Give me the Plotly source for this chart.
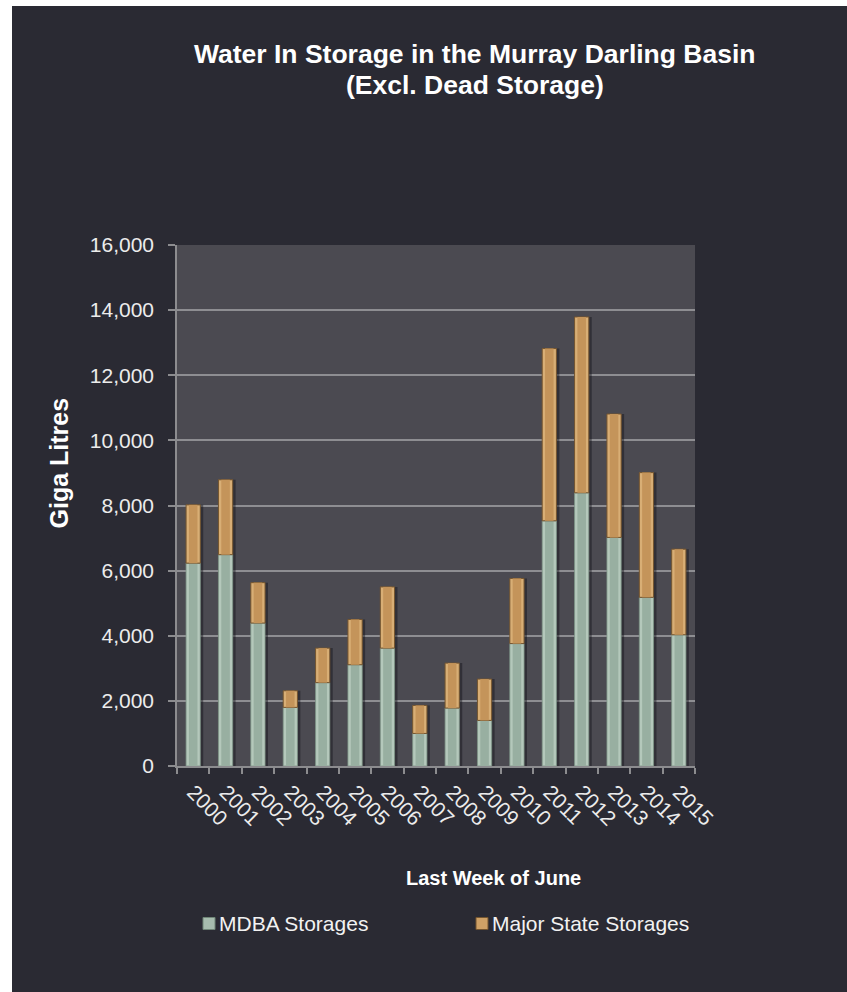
import plotly.graph_objects as go

# Water in storage, last week of June (GL)
years = [str(y) for y in range(2000, 2016)]
mdba_storages = [6230, 6490, 4390, 1800, 2560, 3110, 3620, 1000,
                 1780, 1400, 3760, 7530, 8390, 7020, 5180, 4030]
state_storages = [1790, 2300, 1240, 510, 1060, 1390, 1880, 860,
                  1380, 1270, 2000, 5290, 5400, 3790, 3830, 2630]
y_ticks = list(range(0, 16001, 2000))

totals = [a + b for a, b in zip(mdba_storages, state_storages)]

# figure geometry (pixels)
FIG_W, FIG_H = 847, 992
M_L, M_R, M_T, M_B = 177, 152, 245, 226
PW = FIG_W - M_L - M_R
PH = FIG_H - M_T - M_B


def px_x(p):
    return (p - M_L) / PW


def px_y(p):
    return (FIG_H - M_B - p) / PH


FONT = "Liberation Sans, Arial, sans-serif"
BAR_W = 0.44
INNER_W = BAR_W * 0.6

fig = go.Figure()

# soft shadow to the right of each column
fig.add_trace(go.Bar(x=years, y=totals, base=0, width=BAR_W, offset=-BAR_W / 2 + 0.09,
                     marker=dict(color="rgba(18,18,24,0.45)", line=dict(width=0)),
                     showlegend=False, hoverinfo="skip"))

# MDBA storages (lower segment): light rim + darker core
fig.add_trace(go.Bar(x=years, y=mdba_storages, base=0, width=BAR_W, offset=-BAR_W / 2,
                     name="MDBA Storages",
                     marker=dict(color="#b4c8bb", line=dict(color="#7d9486", width=0.8)),
                     showlegend=False))
fig.add_trace(go.Bar(x=years, y=mdba_storages, base=0, width=INNER_W, offset=-INNER_W / 2,
                     marker=dict(color="#98afa1", line=dict(width=0)),
                     showlegend=False, hoverinfo="skip"))

# Major state storages (upper segment)
fig.add_trace(go.Bar(x=years, y=state_storages, base=mdba_storages, width=BAR_W,
                     offset=-BAR_W / 2, name="Major State Storages",
                     marker=dict(color="#d8ae75", line=dict(color="#74552f", width=1)),
                     showlegend=False))
fig.add_trace(go.Bar(x=years, y=state_storages, base=mdba_storages, width=INNER_W,
                     offset=-INNER_W / 2,
                     marker=dict(color="#c4945a", line=dict(width=0)),
                     showlegend=False, hoverinfo="skip"))

shapes = [
    # white page margin on the left and top
    dict(type="rect", xref="paper", yref="paper", x0=px_x(0), x1=px_x(12),
         y0=px_y(FIG_H), y1=px_y(0), fillcolor="white", line=dict(width=0), layer="above"),
    dict(type="rect", xref="paper", yref="paper", x0=px_x(0), x1=px_x(FIG_W),
         y0=px_y(6), y1=px_y(0), fillcolor="white", line=dict(width=0), layer="above"),
    # legend swatches
    dict(type="rect", xref="paper", yref="paper", x0=px_x(203), x1=px_x(215),
         y0=px_y(929.5), y1=px_y(917.5), fillcolor="#a6bcae",
         line=dict(color="#6f8577", width=1)),
    dict(type="rect", xref="paper", yref="paper", x0=px_x(476), x1=px_x(488),
         y0=px_y(929.5), y1=px_y(917.5), fillcolor="#cfa166",
         line=dict(color="#74552f", width=1)),
]

annotations = [
    # chart title (two centred lines)
    dict(text="<b>Water In Storage in the Murray Darling Basin</b>", xref="paper", yref="paper",
         x=px_x(474.5), y=px_y(54.5), xanchor="center", yanchor="middle", showarrow=False,
         font=dict(family=FONT, size=26.5, color="white")),
    dict(text="<b>(Excl. Dead Storage)</b>", xref="paper", yref="paper",
         x=px_x(474.5), y=px_y(84.5), xanchor="center", yanchor="middle", showarrow=False,
         font=dict(family=FONT, size=26.5, color="white")),
    # axis titles
    dict(text="<b>Giga Litres</b>", textangle=-90, xref="paper", yref="paper",
         x=px_x(58.5), y=px_y(463), xanchor="center", yanchor="middle", showarrow=False,
         font=dict(family=FONT, size=25, color="white")),
    dict(text="<b>Last Week of June</b>", xref="paper", yref="paper",
         x=px_x(493), y=px_y(878), xanchor="center", yanchor="middle", showarrow=False,
         font=dict(family=FONT, size=20, color="white")),
    # legend entries
    dict(text="MDBA Storages", xref="paper", yref="paper",
         x=px_x(216.5), y=px_y(923), xanchor="left", yanchor="middle", showarrow=False,
         font=dict(family=FONT, size=21, color="#f2f2f2")),
    dict(text="Major State Storages", xref="paper", yref="paper",
         x=px_x(489.5), y=px_y(923), xanchor="left", yanchor="middle", showarrow=False,
         font=dict(family=FONT, size=21, color="#f2f2f2")),
]

fig.update_layout(
    width=FIG_W, height=FIG_H,
    margin=dict(l=M_L, r=M_R, t=M_T, b=M_B, pad=0),
    paper_bgcolor="#2a2a33",
    plot_bgcolor="#4b4a51",
    barmode="overlay",
    showlegend=False,
    xaxis=dict(type="category", categoryorder="array", categoryarray=years,
               tickson="boundaries", ticks="outside", ticklen=6, tickwidth=1.5,
               tickcolor="#8c8c8f", showline=True, linecolor="#8c8c8f", linewidth=1.5,
               showgrid=False, tickangle=45, ticklabelstandoff=4,
               tickfont=dict(family=FONT, size=21, color="#ececec")),
    yaxis=dict(range=[0, 16000], tickvals=y_ticks, tickformat=",d",
               ticks="outside", ticklen=7, tickwidth=1.5, tickcolor="#8c8c8f",
               showline=True, linecolor="#8c8c8f", linewidth=1.5,
               showgrid=True, gridcolor="#8e8e92", gridwidth=1.5, zeroline=False,
               ticklabelstandoff=10,
               tickfont=dict(family=FONT, size=21, color="#ececec")),
    shapes=shapes,
    annotations=annotations,
)

fig.write_html("out.html")
